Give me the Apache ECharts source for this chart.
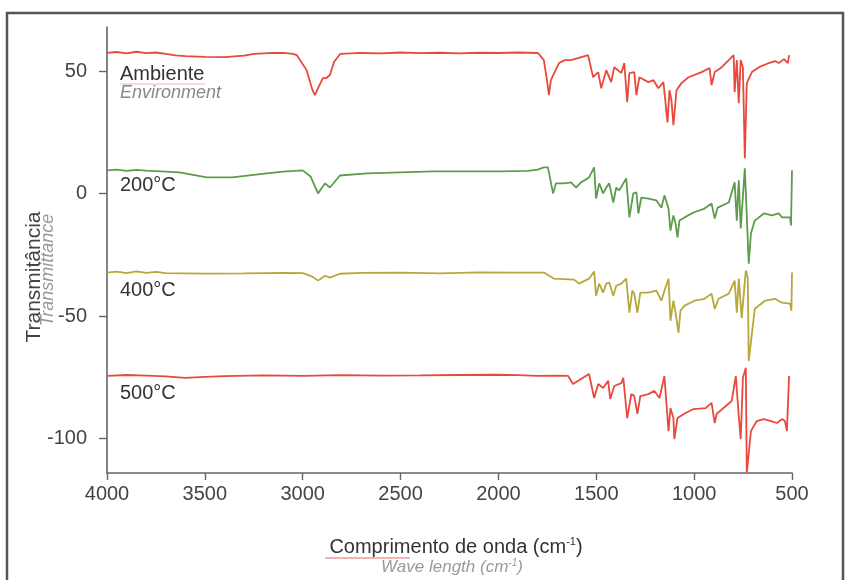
<!DOCTYPE html>
<html>
<head>
<meta charset="utf-8">
<script src="https://cdn.jsdelivr.net/npm/echarts@6/dist/echarts.min.js"></script>
<style>
html,body{margin:0;padding:0;background:#fff;}
#chart{width:848px;height:580px;}
</style>
</head>
<body>
<div id="chart"></div>
<script>
// Tick values
var xTicks = [4000, 3500, 3000, 2500, 2000, 1500, 1000, 500];
var yTicks = [-100, -50, 0, 50];

// Series labels
var seriesNames = ['Ambiente', '200°C', '400°C', '500°C'];

// Ambiente (room temperature)
var ambWn = [4000,3950,3900,3850,3800,3750,3700,3650,3600,3500,3400,3300,3250,3150,3100,3050,3030,2980,2950,2938,2922,2897,2881,2861,2840,2809,2700,2600,2500,2400,2300,2200,2100,2000,1900,1798,1768,1752,1742,1732,1691,1660,1629,1542,1516,1490,1475,1449,1424,1408,1372,1357,1342,1331,1306,1295,1280,1234,1208,1183,1157,1136,1126,1116,1106,1090,1065,1029,962,921,911,895,859,798,793,782,772,762,751,741,731,705,669,618,587,567,541,521,515];
var ambT = [57.4,57.8,57.2,57.9,57.3,57.6,57.0,56.4,56.1,55.8,55.7,56.3,57.0,57.4,57.4,57.0,56.5,50.4,42.2,40.2,43.0,47.1,47.1,48.4,53.7,57.0,57.4,57.2,57.6,57.3,57.5,57.2,57.5,57.4,57.6,57.4,54.5,46.3,40.2,46.3,53.3,54.5,54.5,56.5,47.5,49.6,43.0,50.4,45.5,51.6,49.2,53.3,37.3,49.2,49.6,40.2,47.5,45.5,46.3,43.0,45.5,29.1,42.2,38.1,27.9,42.2,45.1,47.5,49.6,51.2,44.3,49.6,51.6,56.5,41.4,54.5,36.9,54.5,51.6,14.4,45.1,49.6,51.6,53.3,54.1,53.3,54.9,53.3,56.5];

// 200 °C
var t200Wn = [4000,3950,3900,3850,3800,3700,3630,3490,3360,3184,3100,3000,2960,2922,2886,2861,2810,2671,2500,2332,2100,1988,1850,1800,1768,1747,1721,1706,1665,1629,1603,1578,1537,1511,1501,1485,1465,1449,1434,1413,1398,1383,1362,1347,1331,1311,1295,1285,1270,1234,1193,1167,1152,1131,1121,1106,1095,1085,1075,1049,1003,947,911,895,880,823,793,782,772,762,741,731,721,710,690,644,603,567,551,510,505,500];
var t200T = [9.5,9.8,9.3,9.7,9.4,9.0,8.7,6.6,6.6,8.3,9.0,9.5,7.0,0.1,4.2,2.5,7.4,8.3,8.7,9.1,9.1,9.1,9.3,9.8,10.7,10.7,0.1,4.2,4.2,4.6,2.5,4.6,6.6,10.7,-2.0,4.2,0.1,2.5,4.2,-3.6,2.5,1.3,4.2,6.2,-9.7,0.1,0.5,-8.1,-1.6,-2.0,-2.8,-5.7,-0.7,-6.1,-15.1,-8.9,-12.2,-17.9,-11.0,-9.7,-7.7,-6.1,-4.0,-10.2,-5.7,-3.6,4.6,-11.0,5.4,-14.2,10.3,9.5,-28.6,-16.3,-11.0,-8.1,-8.9,-8.1,-9.7,-9.7,-13.0,9.5];

// 400 °C
var t400Wn = [4000,3950,3900,3850,3800,3750,3700,3500,3300,3100,3000,2950,2922,2886,2861,2810,2700,2500,2300,2100,1900,1768,1740,1716,1614,1588,1537,1511,1501,1485,1465,1449,1434,1413,1398,1372,1347,1331,1316,1306,1290,1275,1234,1193,1167,1152,1131,1121,1106,1095,1080,1070,1049,998,947,911,895,875,823,793,782,772,757,736,726,721,705,690,638,587,551,510,503,500];
var t400T = [-32.2,-31.8,-32.4,-31.7,-32.3,-31.9,-32.4,-32.6,-32.5,-32.3,-32.4,-33.9,-35.5,-33.5,-34.3,-32.7,-32.3,-32.2,-32.5,-32.1,-32.2,-32.2,-33.5,-34.7,-35.1,-36.7,-34.7,-31.8,-41.7,-36.7,-40.4,-36.7,-36.3,-41.7,-37.6,-36.7,-34.7,-48.6,-39.6,-40.8,-48.6,-40.4,-40.4,-39.6,-43.7,-39.6,-34.7,-51.9,-43.7,-48.6,-56.8,-47.8,-45.7,-43.7,-42.9,-40.8,-47.0,-42.9,-40.8,-35.5,-48.6,-34.7,-50.7,-31.4,-34.3,-68.3,-57.2,-47.0,-43.7,-42.9,-44.5,-44.9,-47.8,-32.2];

// 500 °C
var t500Wn = [4000,3900,3800,3700,3600,3500,3400,3200,3000,2800,2600,2400,2200,2000,1900,1800,1700,1644,1619,1537,1511,1490,1465,1439,1429,1408,1372,1362,1342,1321,1306,1290,1275,1234,1203,1177,1152,1131,1121,1106,1101,1085,1044,1003,941,911,895,885,808,787,772,762,751,736,731,710,680,644,608,577,551,536,526,515];
var t500T = [-74.4,-74.0,-74.3,-74.6,-75.2,-74.8,-74.5,-74.2,-74.4,-74.1,-74.3,-74.2,-74.0,-73.9,-74.1,-74.4,-74.3,-74.4,-77.7,-73.6,-83.4,-77.7,-79.3,-76.4,-83.8,-78.5,-77.3,-75.2,-91.6,-81.8,-82.6,-89.9,-82.6,-81.8,-80.5,-83.4,-74.4,-96.9,-87.5,-91.6,-100.2,-91.6,-89.5,-87.9,-87.5,-85.4,-93.6,-89.9,-84.6,-74.4,-90.8,-100.2,-75.2,-71.1,-114.0,-96.9,-92.8,-92.0,-92.8,-93.6,-92.0,-92.8,-96.9,-74.4];

function pairs(wn, t){ return wn.map(function(w,i){ return [w, t[i]]; }); }

var colors = ['#e8493c', '#5e9b4c', '#b7a83a', '#e8493c'];
var allData = [pairs(ambWn, ambT), pairs(t200Wn, t200T), pairs(t400Wn, t400T), pairs(t500Wn, t500T)];

var chart = echarts.init(document.getElementById('chart'), null, {renderer: 'canvas'});
var FONT = '"Liberation Sans", Arial, sans-serif';

var option = {
  animation: false,
  backgroundColor: '#fff',
  grid: {left: 107, right: 56, top: 27, bottom: 107, containLabel: false},
  xAxis: {
    type: 'value', inverse: true, min: 500, max: 4000, interval: 500,
    axisLine: {show: true, onZero: false, lineStyle: {color: '#666', width: 1.6}},
    axisTick: {show: true, length: 7, lineStyle: {color: '#666', width: 1.4}},
    splitLine: {show: false},
    axisLabel: {color: '#444', fontSize: 20, fontFamily: FONT, margin: 11,
      customValues: xTicks, formatter: function(v){ return String(v); }}
  },
  yAxis: {
    type: 'value', min: -114, max: 68,
    axisLine: {show: true, onZero: false, lineStyle: {color: '#666', width: 1.6}},
    axisTick: {show: true, length: 8, lineStyle: {color: '#666', width: 1.4}, customValues: yTicks},
    splitLine: {show: false},
    axisLabel: {color: '#444', fontSize: 20, fontFamily: FONT, margin: 20, customValues: yTicks,
      formatter: function(v){ return String(v); }}
  },
  series: allData.map(function(d, i){
    return {
      name: seriesNames[i], type: 'line', data: d, showSymbol: false, clip: false,
      lineStyle: {color: colors[i], width: 1.8}, itemStyle: {color: colors[i]}
    };
  }),
  graphic: [
    {type: 'rect', shape: {x: 7, y: 13, width: 836, height: 620}, style: {fill: 'none', stroke: '#555', lineWidth: 2.5}, silent: true},
    {type: 'text', x: 120, y: 74, style: {text: seriesNames[0], font: '20px ' + FONT, fill: '#333', verticalAlign: 'middle'}},
    {type: 'text', x: 120, y: 93, style: {text: 'Environment', font: 'italic 18px ' + FONT, fill: '#888', verticalAlign: 'middle'}},
    {type: 'line', shape: {x1: 120, y1: 84, x2: 205, y2: 84}, style: {stroke: '#f0b8b8', lineWidth: 1}},
    {type: 'text', x: 120, y: 185, style: {text: seriesNames[1], font: '20px ' + FONT, fill: '#333', verticalAlign: 'middle'}},
    {type: 'text', x: 120, y: 290, style: {text: seriesNames[2], font: '20px ' + FONT, fill: '#333', verticalAlign: 'middle'}},
    {type: 'text', x: 120, y: 393, style: {text: seriesNames[3], font: '20px ' + FONT, fill: '#333', verticalAlign: 'middle'}},
    {type: 'text', x: 34, y: 277, rotation: Math.PI / 2, style: {text: 'Transmitância', font: '21px ' + FONT, fill: '#444', align: 'center', verticalAlign: 'middle'}},
    {type: 'text', x: 48, y: 270, rotation: Math.PI / 2, style: {text: 'Transmittance', font: 'italic 18px ' + FONT, fill: '#999', align: 'center', verticalAlign: 'middle'}},
    {type: 'text', x: 456, y: 547, style: {
      text: 'Comprimento de onda (cm{sup|-1})', font: '20px ' + FONT, fill: '#333', align: 'center', verticalAlign: 'middle',
      rich: {sup: {fontSize: 11, fontFamily: FONT, fill: '#333', verticalAlign: 'top', padding: [0, 0, 10, 0]}}
    }},
    {type: 'line', shape: {x1: 325, y1: 558, x2: 410, y2: 558}, style: {stroke: '#e06a6a', lineWidth: 1}},
    {type: 'text', x: 452, y: 567, style: {
      text: 'Wave length (cm{sup|-1})', font: 'italic 17px ' + FONT, fill: '#999', align: 'center', verticalAlign: 'middle',
      rich: {sup: {fontSize: 10, fontStyle: 'italic', fontFamily: FONT, fill: '#999', verticalAlign: 'top', padding: [0, 0, 8, 0]}}
    }}
  ]
};
chart.setOption(option);
</script>
</body>
</html>
